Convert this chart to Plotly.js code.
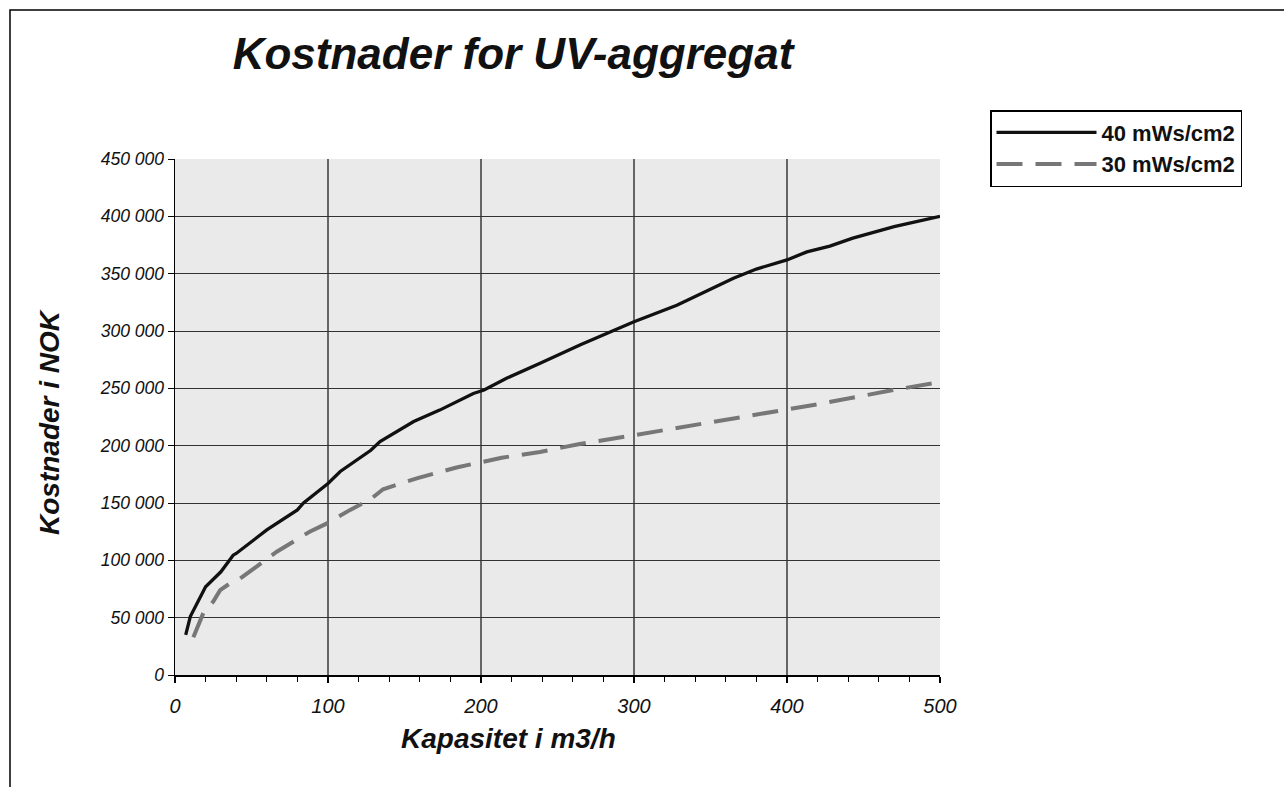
<!DOCTYPE html>
<html>
<head>
<meta charset="utf-8">
<script src="https://cdn.plot.ly/plotly-3.0.1.min.js"></script>
<style>
html,body{margin:0;padding:0;background:#fff;}
#chart{width:1284px;height:787px;}
</style>
</head>
<body>
<div id="chart"></div>
<script>
// Capacity (m3/h) and cost (NOK)
const x40 = [7, 10, 20, 30, 38, 40, 60, 68, 80, 84, 100, 108, 128, 134, 156, 173, 195, 202, 217, 239, 265, 300, 328, 365, 380, 400, 413, 428, 443, 470, 500];
const y40 = [35000, 51000, 77000, 90000, 104500, 106000, 126500, 133500, 144000, 150000, 167000, 177500, 196000, 203500, 221000, 231000, 245500, 248500, 259000, 272000, 288000, 308000, 322500, 346000, 354000, 362000, 369000, 374000, 381000, 391000, 400000];
const x30 = [12, 18.5, 25, 29.5, 36, 42.5, 66.5, 88, 99, 114.5, 127.5, 136, 158, 184, 201.5, 213.5, 238.5, 264.5, 299.5, 339, 402, 419.5, 469.5, 500];
const y30 = [33000, 54000, 64000, 74000, 80000, 84000, 107500, 125000, 132000, 144000, 153000, 162000, 171500, 181000, 186000, 189500, 194500, 201500, 209000, 218000, 232500, 236000, 248500, 255500];
const seriesNames = ['40 mWs/cm2', '30 mWs/cm2'];
const chartTitle = 'Kostnader for UV-aggregat';
const xTitle = 'Kapasitet i m3/h';
const yTitle = 'Kostnader i NOK';

const FONT = 'Arial, "Liberation Sans", sans-serif';

const traces = [
  {x: x40, y: y40, type: 'scatter', mode: 'lines', name: seriesNames[0],
   line: {color: '#111111', width: 3.3}},
  {x: x30, y: y30, type: 'scatter', mode: 'lines', name: seriesNames[1],
   line: {color: '#777777', width: 4, dash: '26px,13px'}}
];

const layout = {
  width: 1284, height: 787,
  margin: {l: 175, r: 344, t: 159, b: 112},
  paper_bgcolor: '#ffffff',
  plot_bgcolor: '#eaeaea',
  separators: ', ',
  font: {family: FONT, color: '#000'},
  title: {
    text: chartTitle,
    font: {family: FONT, size: 44, weight: 'bold', style: 'italic', color: '#111'},
    xref: 'container', yref: 'container',
    x: 513/1284, xanchor: 'center',
    y: 1 - 54/787, yanchor: 'middle'
  },
  xaxis: {
    range: [0, 500], dtick: 100, tick0: 0,
    ticks: 'outside', ticklen: 6, tickwidth: 1.5, tickcolor: '#000',
    showline: true, linecolor: '#000', linewidth: 1.5,
    showgrid: true, gridcolor: '#666666', gridwidth: 1.5,
    zeroline: false,
    minor: {dtick: 20, ticks: 'outside', ticklen: 5, tickwidth: 1, tickcolor: '#000', showgrid: false},
    tickfont: {family: FONT, size: 20, style: 'italic', color: '#111'},
    ticklabelstandoff: 6
  },
  yaxis: {
    range: [0, 450000], dtick: 50000, tick0: 0,
    tickformat: ',d',
    ticks: 'outside', ticklen: 6, tickwidth: 1, tickcolor: '#000',
    showline: true, linecolor: '#000', linewidth: 1.5,
    showgrid: true, gridcolor: '#333333', gridwidth: 1,
    zeroline: false,
    tickfont: {family: FONT, size: 17.5, style: 'italic', color: '#111'},
    ticklabelstandoff: 0
  },
  legend: {
    x: (990-175)/765, y: (675-110)/516, xref: 'paper', yref: 'paper',
    xanchor: 'left', yanchor: 'top',
    bgcolor: '#ffffff', bordercolor: '#000', borderwidth: 1.5,
    font: {family: FONT, size: 22, weight: 'bold', color: '#111'},
    itemwidth: 100,
    tracegroupgap: 0
  },
  annotations: [
    {text: xTitle, xref: 'paper', yref: 'paper', x: (508-175)/765, y: (675-738)/516,
     xanchor: 'center', yanchor: 'middle', showarrow: false,
     font: {family: FONT, size: 28, weight: 'bold', style: 'italic', color: '#111'}},
    {text: yTitle, xref: 'paper', yref: 'paper', x: (49-175)/765, y: (675-422)/516,
     xanchor: 'center', yanchor: 'middle', showarrow: false, textangle: -90,
     font: {family: FONT, size: 28, weight: 'bold', style: 'italic', color: '#111'}}
  ],
  shapes: [
    {type: 'rect', xref: 'paper', yref: 'paper',
     x0: (10-175)/765, x1: (1295-175)/765, y0: (675-800)/516, y1: (675-10)/516,
     line: {color: '#000', width: 1.5}, fillcolor: 'rgba(0,0,0,0)', layer: 'above'}
  ]
};

Plotly.newPlot('chart', traces, layout, {displayModeBar: false, staticPlot: true});
</script>
</body>
</html>
